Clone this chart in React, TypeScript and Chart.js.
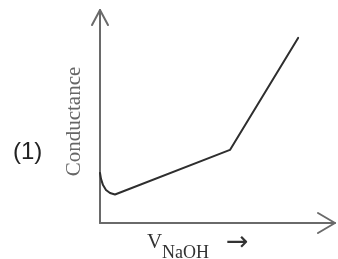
import React, { useEffect, useRef } from "react";
import { Chart, registerables } from "chart.js";

Chart.register(...registerables);

const volumeNaOH = [0, 0.43, 1.28, 2.55, 4.26, 6.38, 55.3, 84.3];
const conductance = [23.5, 20.7, 17.8, 15.5, 14.1, 13.4, 34.3, 86.9];
const panelLabel = "(1)";
const yTitle = "Conductance";
const xTitleMain = "V";
const xTitleSub = "NaOH";
const xTitleArrow = "→";

const decorPlugin = {
  id: "decor",
  beforeDatasetsDraw(chart: any) {
    const { ctx, chartArea } = chart;
    const { left, right, top, bottom } = chartArea;
    ctx.save();
    ctx.strokeStyle = "#6a6a6a";
    ctx.lineWidth = 2;
    ctx.lineCap = "round";
    ctx.lineJoin = "round";
    ctx.beginPath();
    ctx.moveTo(left, bottom);
    ctx.lineTo(left, top);
    ctx.stroke();
    ctx.beginPath();
    ctx.moveTo(left - 8, top + 15);
    ctx.lineTo(left, top);
    ctx.lineTo(left + 8, top + 15);
    ctx.stroke();
    ctx.beginPath();
    ctx.moveTo(left, bottom);
    ctx.lineTo(right, bottom);
    ctx.stroke();
    ctx.beginPath();
    ctx.moveTo(right - 17, bottom - 10);
    ctx.lineTo(right, bottom);
    ctx.lineTo(right - 17, bottom + 10);
    ctx.stroke();
    ctx.restore();
  },
  afterDraw(chart: any) {
    const { ctx } = chart;
    ctx.save();
    ctx.fillStyle = "#222";
    ctx.font = "24px 'Liberation Sans', Arial, sans-serif";
    ctx.textAlign = "left";
    ctx.textBaseline = "alphabetic";
    ctx.fillText(panelLabel, 13, 159);
    ctx.save();
    ctx.fillStyle = "#666";
    ctx.font = "21px 'Liberation Serif', 'Times New Roman', serif";
    ctx.translate(80, 121.5);
    ctx.rotate(-Math.PI / 2);
    ctx.textAlign = "center";
    ctx.textBaseline = "alphabetic";
    ctx.fillText(yTitle, 0, 0);
    ctx.restore();
    ctx.fillStyle = "#333";
    ctx.textAlign = "left";
    ctx.textBaseline = "alphabetic";
    ctx.font = "21px 'Liberation Serif', 'Times New Roman', serif";
    ctx.fillText(xTitleMain, 147, 248);
    ctx.font = "18px 'Liberation Serif', 'Times New Roman', serif";
    ctx.fillText(xTitleSub, 162, 258);
    ctx.font = "27px 'DejaVu Sans', sans-serif";
    ctx.textBaseline = "middle";
    ctx.fillText(xTitleArrow, 226, 243);
    ctx.restore();
  },
};

export default function App() {
  const canvasRef = useRef<HTMLCanvasElement | null>(null);

  useEffect(() => {
    if (!canvasRef.current) return;
    const chart = new Chart(canvasRef.current, {
      type: "line",
      data: {
        datasets: [
          {
            data: volumeNaOH.map((v, i) => ({ x: v, y: conductance[i] })),
            borderColor: "#2e2e2e",
            borderWidth: 2,
            pointRadius: 0,
            tension: 0,
            fill: false,
            clip: false as any,
            borderJoinStyle: "round",
            borderCapStyle: "round",
          } as any,
        ],
      },
      options: {
        animation: false,
        responsive: false,
        maintainAspectRatio: false,
        devicePixelRatio: 1,
        layout: { padding: { left: 100, right: 3, top: 10, bottom: 36 } },
        plugins: {
          legend: { display: false },
          tooltip: { enabled: false },
          title: { display: false },
        },
        scales: {
          x: { type: "linear", min: 0, max: 100, display: false },
          y: { type: "linear", min: 0, max: 100, display: false },
        },
      },
      plugins: [decorPlugin],
    });
    return () => chart.destroy();
  }, []);

  return (
    <div style={{ position: "fixed", left: 0, top: 0, width: 338, height: 259, background: "#fff" }}>
      <canvas ref={canvasRef} width={338} height={259} style={{ width: 338, height: 259, display: "block" }} />
    </div>
  );
}
